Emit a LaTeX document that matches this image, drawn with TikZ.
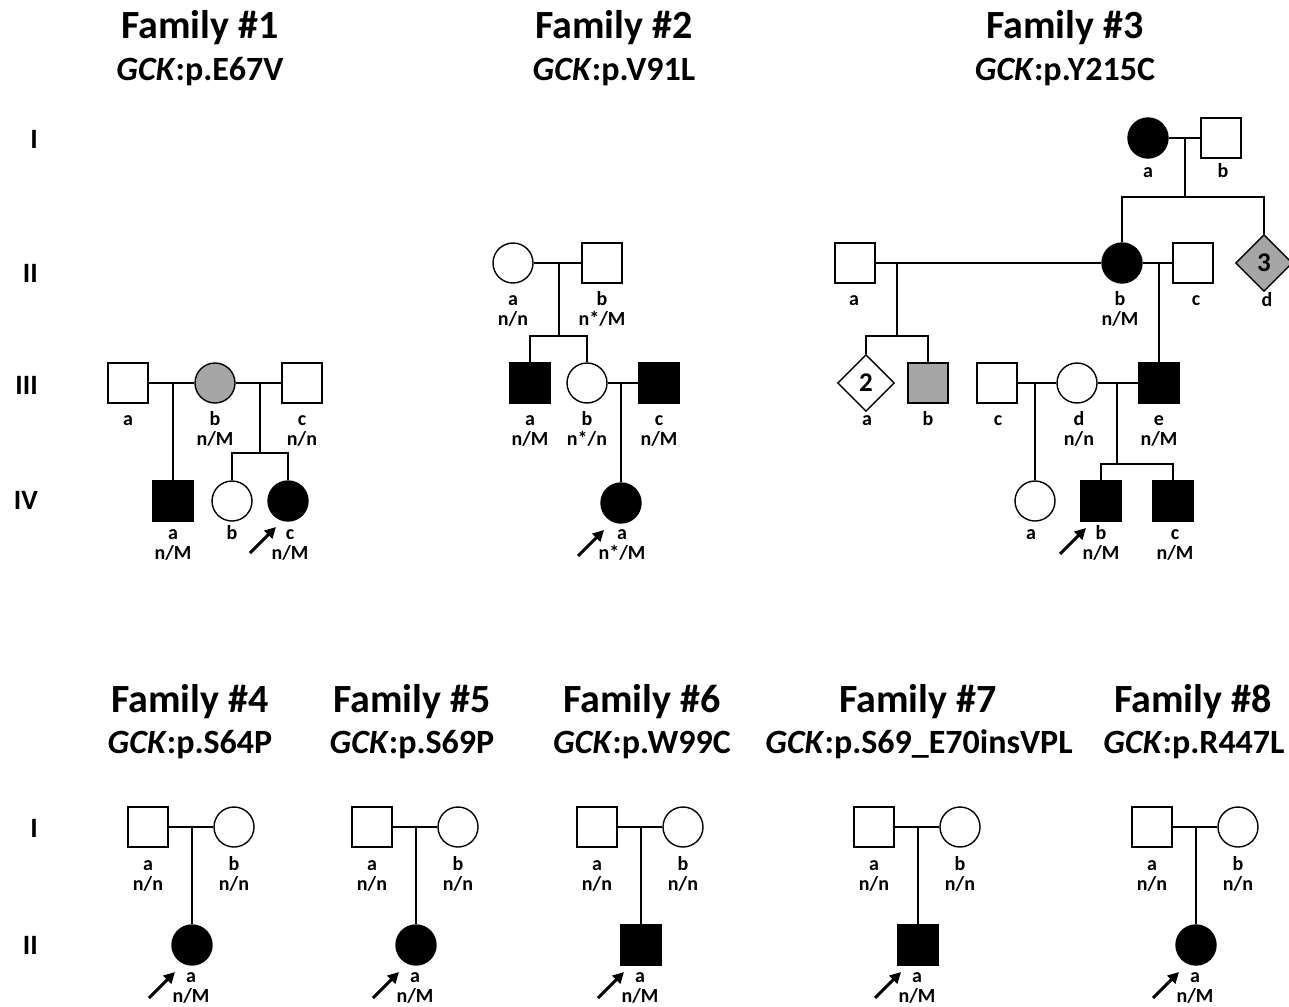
\documentclass[tikz,border=0pt]{standalone}
\usepackage{fontspec}
\setmainfont{Carlito}
\usetikzlibrary{shapes.geometric,arrows.meta}
\definecolor{carr}{RGB}{166,166,166}
\tikzset{
 sym/.style={draw=black, line width=1.4pt, inner sep=0pt, fill=white},
 male/.style={sym, rectangle, minimum size=40pt},
 fem/.style={sym, circle, minimum size=40pt},
 unk/.style={sym, diamond, minimum width=57pt, minimum height=57pt, font=\fontsize{27}{27}\selectfont\bfseries},
 aff/.style={fill=black},
 car/.style={fill=carr},
 ln/.style={line width=1.4pt},
 arr/.style={line width=3pt, -{Triangle[length=11pt,width=11pt]}},
 lab/.style={anchor=base, inner sep=0pt, font=\fontsize{20}{20}\selectfont\bfseries},
 ttl/.style={anchor=base, inner sep=0pt, font=\fontsize{40}{40}\selectfont\bfseries},
 subt/.style={anchor=base, inner sep=0pt, font=\fontsize{34}{34}\selectfont\bfseries},
 gen/.style={anchor=east, inner sep=0pt, font=\fontsize{28}{28}\selectfont\bfseries},
}
\newcommand\mylab[4]{\node[lab] (#1) at (#2,#3) {#4};}
\newcommand\mylabb[5]{\node[lab] (#1) at (#2,#3) {#4};\node[lab] (#1g) at (#2,#3+20) {#5};}
\begin{document}
\begin{tikzpicture}[x=1pt,y=-1pt]
\useasboundingbox (0,0) rectangle (1289,1006);
% ---------- titles ----------
\node[ttl] (t1) at (200,39) {Family \#1};
\node[subt] (st1) at (200,81) {\textit{GCK}:p.E67V};
\node[ttl] (t2) at (614,39) {Family \#2};
\node[subt] (st2) at (614,81) {\textit{GCK}:p.V91L};
\node[ttl] (t3) at (1065,39) {Family \#3};
\node[subt] (st3) at (1065,81) {\textit{GCK}:p.Y215C};
\node[ttl] (t4) at (190,712) {Family \#4};
\node[subt] (st4) at (190,753) {\textit{GCK}:p.S64P};
\node[ttl] (t5) at (412,712) {Family \#5};
\node[subt] (st5) at (412,753) {\textit{GCK}:p.S69P};
\node[ttl] (t6) at (642,712) {Family \#6};
\node[subt] (st6) at (642,753) {\textit{GCK}:p.W99C};
\node[ttl] (t7) at (918,712) {Family \#7};
\node[subt] (st7) at (919,753) {\textit{GCK}:p.S69\_E70insVPL};
\node[ttl] (t8) at (1193,712) {Family \#8};
\node[subt] (st8) at (1194,753) {\textit{GCK}:p.R447L};
% ---------- generations ----------
\node[gen] (g1) at (38,139) {I};
\node[gen] (g2) at (38,273) {II};
\node[gen] (g3) at (38,385) {III};
\node[gen] (g4) at (38,500) {IV};
\node[gen] (g5) at (38,828) {I};
\node[gen] (g6) at (38,945) {II};
% ---------- Family 1 ----------
\node[male] (f1a) at (128,383) {};
\node[fem,car] (f1b) at (215,383) {};
\node[male] (f1c) at (302,383) {};
\node[male,aff] (f1d) at (173,501) {};
\node[fem] (f1e) at (232,501) {};
\node[fem,aff] (f1f) at (288,501) {};
\draw[ln] (f1a) -- (f1b);
\draw[ln] (f1b) -- (f1c);
\coordinate (f1m1) at (173,383);
\draw[ln] (f1m1) -- (f1d.north);
\coordinate (f1m2) at (260,383);
\coordinate (f1s) at (260,453);
\draw[ln] (f1m2) -- (f1s);
\draw[ln] (f1e.north) |- (f1s) -| (f1f.north);
\mylab{f1la}{128}{425}{a}
\mylabb{f1lb}{215}{425}{b}{n/M}
\mylabb{f1lc}{302}{425}{c}{n/n}
\mylabb{f1ld}{173}{539}{a}{n/M}
\mylab{f1le}{232}{539}{b}
\mylabb{f1lf}{290}{539}{c}{n/M}
\coordinate (f1at) at (250,553);
\coordinate (f1ah) at (276,527);
\draw[arr] (f1at) -- (f1ah);
% ---------- Family 2 ----------
\node[fem] (f2a) at (513,263) {};
\node[male] (f2b) at (602,263) {};
\node[male,aff] (f2c) at (530,383) {};
\node[fem] (f2d) at (587,383) {};
\node[male,aff] (f2e) at (659,383) {};
\node[fem,aff] (f2f) at (621,503) {};
\draw[ln] (f2a) -- (f2b);
\coordinate (f2m1) at (559,263);
\coordinate (f2s) at (559,336);
\draw[ln] (f2m1) -- (f2s);
\draw[ln] (f2c.north) |- (f2s) -| (f2d.north);
\draw[ln] (f2d) -- (f2e);
\coordinate (f2m2) at (621,383);
\draw[ln] (f2m2) -- (f2f.north);
\mylabb{f2la}{513}{305}{a}{n/n}
\mylabb{f2lb}{602}{305}{b}{n*/M}
\mylabb{f2lc}{530}{425}{a}{n/M}
\mylabb{f2ld}{587}{425}{b}{n*/n}
\mylabb{f2le}{659}{425}{c}{n/M}
\mylabb{f2lf}{622}{539}{a}{n*/M}
\coordinate (f2at) at (578,556);
\coordinate (f2ah) at (604,530);
\draw[arr] (f2at) -- (f2ah);
% ---------- Family 3 ----------
\node[fem,aff] (f3Ia) at (1148,138) {};
\node[male] (f3Ib) at (1221,138) {};
\node[male] (f3IIa) at (855,263) {};
\node[fem,aff] (f3IIb) at (1122,263) {};
\node[male] (f3IIc) at (1193,263) {};
\node[unk,car] (f3IId) at (1264,263) {3};
\node[unk] (f3IIIa) at (866,383) {2};
\node[male,car] (f3IIIb) at (928,383) {};
\node[male] (f3IIIc) at (997,383) {};
\node[fem] (f3IIId) at (1077,383) {};
\node[male,aff] (f3IIIe) at (1159,383) {};
\node[fem] (f3IVa) at (1035,501) {};
\node[male,aff] (f3IVb) at (1101,501) {};
\node[male,aff] (f3IVc) at (1173,501) {};
\draw[ln] (f3Ia) -- (f3Ib);
\coordinate (f3m1) at (1185,138);
\coordinate (f3s1) at (1185,197);
\draw[ln] (f3m1) -- (f3s1);
\draw[ln] (f3IIb.north) |- (f3s1) -| (f3IId.north);
\draw[ln] (f3IIa) -- (f3IIb);
\draw[ln] (f3IIb) -- (f3IIc);
\coordinate (f3m2) at (897,263);
\coordinate (f3s2) at (897,336);
\draw[ln] (f3m2) -- (f3s2);
\draw[ln] (f3IIIa.north) |- (f3s2) -| (f3IIIb.north);
\coordinate (f3m3) at (1159,263);
\draw[ln] (f3m3) -- (f3IIIe.north);
\draw[ln] (f3IIIc) -- (f3IIId);
\draw[ln] (f3IIId) -- (f3IIIe);
\coordinate (f3m4) at (1035,383);
\draw[ln] (f3m4) -- (f3IVa.north);
\coordinate (f3m5) at (1117,383);
\coordinate (f3s3) at (1117,464);
\draw[ln] (f3m5) -- (f3s3);
\draw[ln] (f3IVb.north) |- (f3s3) -| (f3IVc.north);
\mylab{f3la}{1148}{177}{a}
\mylab{f3lb}{1223}{177}{b}
\mylab{f3lc}{854}{305}{a}
\mylabb{f3ld}{1120}{305}{b}{n/M}
\mylab{f3le}{1196}{305}{c}
\mylab{f3lf}{1267}{306}{d}
\mylab{f3lg}{867}{425}{a}
\mylab{f3lh}{928}{425}{b}
\mylab{f3li}{998}{425}{c}
\mylabb{f3lj}{1079}{425}{d}{n/n}
\mylabb{f3lk}{1159}{425}{e}{n/M}
\mylab{f3ll}{1031}{539}{a}
\mylabb{f3lm}{1101}{539}{b}{n/M}
\mylabb{f3ln}{1175}{539}{c}{n/M}
\coordinate (f3at) at (1060,554);
\coordinate (f3ah) at (1086,528);
\draw[arr] (f3at) -- (f3ah);
% ---------- Family 4 ----------
\node[male] (f4a) at (148,827) {};
\node[fem] (f4b) at (234,827) {};
\node[fem,aff] (f4c) at (192,945) {};
\draw[ln] (f4a) -- (f4b);
\coordinate (f4m) at (192,827);
\draw[ln] (f4m) -- (f4c.north);
\mylabb{f4la}{148}{870}{a}{n/n}
\mylabb{f4lb}{234}{870}{b}{n/n}
\mylabb{f4lc}{191}{982}{a}{n/M}
\coordinate (f4at) at (149,998);
\coordinate (f4ah) at (175,972);
\draw[arr] (f4at) -- (f4ah);
% ---------- Family 5 ----------
\node[male] (f5a) at (372,827) {};
\node[fem] (f5b) at (458,827) {};
\node[fem,aff] (f5c) at (416,945) {};
\draw[ln] (f5a) -- (f5b);
\coordinate (f5m) at (416,827);
\draw[ln] (f5m) -- (f5c.north);
\mylabb{f5la}{372}{870}{a}{n/n}
\mylabb{f5lb}{458}{870}{b}{n/n}
\mylabb{f5lc}{415}{982}{a}{n/M}
\coordinate (f5at) at (373,998);
\coordinate (f5ah) at (399,972);
\draw[arr] (f5at) -- (f5ah);
% ---------- Family 6 ----------
\node[male] (f6a) at (597,827) {};
\node[fem] (f6b) at (683,827) {};
\node[male,aff] (f6c) at (641,945) {};
\draw[ln] (f6a) -- (f6b);
\coordinate (f6m) at (641,827);
\draw[ln] (f6m) -- (f6c.north);
\mylabb{f6la}{597}{870}{a}{n/n}
\mylabb{f6lb}{683}{870}{b}{n/n}
\mylabb{f6lc}{640}{982}{a}{n/M}
\coordinate (f6at) at (598,998);
\coordinate (f6ah) at (624,972);
\draw[arr] (f6at) -- (f6ah);
% ---------- Family 7 ----------
\node[male] (f7a) at (874,827) {};
\node[fem] (f7b) at (960,827) {};
\node[male,aff] (f7c) at (918,945) {};
\draw[ln] (f7a) -- (f7b);
\coordinate (f7m) at (918,827);
\draw[ln] (f7m) -- (f7c.north);
\mylabb{f7la}{874}{870}{a}{n/n}
\mylabb{f7lb}{960}{870}{b}{n/n}
\mylabb{f7lc}{917}{982}{a}{n/M}
\coordinate (f7at) at (875,998);
\coordinate (f7ah) at (901,972);
\draw[arr] (f7at) -- (f7ah);
% ---------- Family 8 ----------
\node[male] (f8a) at (1152,827) {};
\node[fem] (f8b) at (1238,827) {};
\node[fem,aff] (f8c) at (1196,945) {};
\draw[ln] (f8a) -- (f8b);
\coordinate (f8m) at (1196,827);
\draw[ln] (f8m) -- (f8c.north);
\mylabb{f8la}{1152}{870}{a}{n/n}
\mylabb{f8lb}{1238}{870}{b}{n/n}
\mylabb{f8lc}{1195}{982}{a}{n/M}
\coordinate (f8at) at (1153,998);
\coordinate (f8ah) at (1179,972);
\draw[arr] (f8at) -- (f8ah);
\end{tikzpicture}
\end{document}
